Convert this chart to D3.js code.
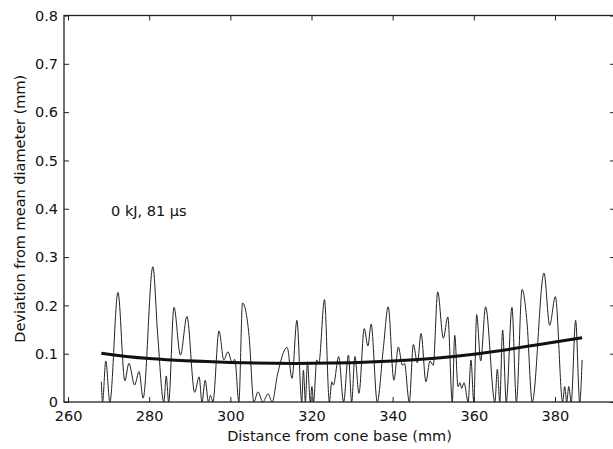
<!DOCTYPE html>
<html>
<head>
<meta charset="utf-8">
<script src="https://cdn.jsdelivr.net/npm/d3@7"></script>
<style>
  body { margin: 0; background: #fff; }
  text { font-family: "DejaVu Sans", sans-serif; font-size: 14.5px; fill: #111; }
</style>
</head>
<body>
<div id="chart"></div>
<script>
// profile along the cone (thin line) - peaks and troughs
const profileX = [268.2, 268.5, 269.3, 270.3, 272.3, 274.0, 275.0, 276.4, 277.5, 278.5,
  280.9, 282.1, 283.6, 284.2, 284.8, 286.1, 287.7, 289.3, 291.2, 292.3,
  293.0, 293.8, 294.6, 295.1, 295.7, 297.2, 298.4, 299.4, 300.4, 301.1,
  302.1, 303.0, 304.6, 305.8, 306.8, 308.0, 309.3, 310.3, 311.6, 314.0,
  315.2, 316.4, 317.6, 318.0, 318.5, 319.0, 319.7, 320.1, 320.5, 321.3,
  321.8, 323.2, 324.4, 325.0, 325.4, 326.7, 327.9, 329.1, 329.9, 330.7,
  331.7, 333.0, 333.9, 334.7, 336.2, 337.7, 338.9, 340.3, 341.4, 342.4,
  342.9, 344.1, 345.1, 346.1, 347.0, 348.2, 349.2, 350.0, 351.1, 352.5,
  353.6, 354.7, 355.3, 356.1, 356.6, 357.0, 357.6, 358.6, 359.3, 360.0,
  360.7, 361.7, 362.9, 365.2, 365.8, 366.4, 367.1, 368.0, 369.4, 370.5,
  371.9, 373.1, 374.4, 377.3, 378.7, 380.1, 381.9, 382.4, 382.9, 383.4,
  384.0, 385.1, 386.1, 386.7];
const profileY = [0.042, 0, 0.085, 0, 0.227, 0.044, 0.080, 0.035, 0.063, 0.008,
  0.280, 0.138, 0, 0.054, 0, 0.196, 0.097, 0.177, 0.020, 0.052,
  0, 0.045, 0, 0.014, 0, 0.147, 0.087, 0.104, 0.083, 0.088,
  0, 0.205, 0.138, 0, 0.021, 0, 0.017, 0, 0.056, 0.113,
  0.049, 0.169, 0, 0.066, 0, 0.083, 0, 0.032, 0, 0.087,
  0.080, 0.212, 0, 0.042, 0.035, 0.094, 0, 0.097, 0, 0.094,
  0.018, 0.152, 0.116, 0.161, 0, 0.111, 0.197, 0.045, 0.114, 0.076,
  0.080, 0, 0.119, 0.081, 0.142, 0.042, 0.085, 0.076, 0.228, 0.132,
  0.176, 0, 0.138, 0.032, 0.040, 0.028, 0.040, 0, 0.087, 0,
  0.181, 0.085, 0.197, 0, 0.068, 0, 0.149, 0, 0.196, 0,
  0.233, 0.166, 0, 0.267, 0.159, 0.218, 0, 0.032, 0, 0.032,
  0, 0.169, 0, 0.087];

// fitted trend (thick line)
const trendX = [268.2, 280, 300, 320, 340, 360, 380, 386.7];
const trendY = [0.101, 0.090, 0.082, 0.080, 0.085, 0.099, 0.124, 0.133];

const xTicks = [260, 280, 300, 320, 340, 360, 380];
const yTicks = [0, 0.1, 0.2, 0.3, 0.4, 0.5, 0.6, 0.7, 0.8];
const annotation = "0 kJ, 81 μs";

const W = 613, H = 449;
const plotL = 64, plotR = 615, plotT = 15.5, plotB = 402;

const svg = d3.select("#chart").append("svg")
  .attr("width", W)
  .attr("height", H);

const x = d3.scaleLinear().domain([259.0, 394.8]).range([plotL, plotR]);
const y = d3.scaleLinear().domain([0, 0.8]).range([plotB, plotT]);

svg.append("defs").append("clipPath").attr("id", "clip")
  .append("rect")
    .attr("x", plotL).attr("y", plotT)
    .attr("width", plotR - plotL).attr("height", plotB - plotT);

// ticks inward on all four sides, labels only bottom/left
const tk = 5;
svg.append("g")
  .attr("transform", `translate(0,${plotB})`)
  .call(d3.axisBottom(x).tickValues(xTicks).tickSizeInner(-tk).tickSizeOuter(0).tickPadding(9))
  .call(g => g.select(".domain").remove());
svg.append("g")
  .attr("transform", `translate(0,${plotT})`)
  .call(d3.axisTop(x).tickValues(xTicks).tickSizeInner(-tk).tickSizeOuter(0).tickFormat(""))
  .call(g => g.select(".domain").remove());
svg.append("g")
  .attr("transform", `translate(${plotL},0)`)
  .call(d3.axisLeft(y).tickValues(yTicks).tickSizeInner(-tk).tickSizeOuter(0).tickPadding(6)
    .tickFormat(d => d === 0 ? "0" : d3.format(".1f")(d)))
  .call(g => g.select(".domain").remove());
svg.append("g")
  .attr("transform", `translate(${plotR},0)`)
  .call(d3.axisRight(y).tickValues(yTicks).tickSizeInner(-tk).tickSizeOuter(0).tickFormat(""))
  .call(g => g.select(".domain").remove());

svg.selectAll(".tick line").attr("stroke", "#222").attr("stroke-width", 1);
svg.selectAll(".tick text")
  .style("font-family", "'DejaVu Sans', sans-serif")
  .style("font-size", "14.5px")
  .attr("fill", "#111");

// box
svg.append("rect")
  .attr("x", plotL).attr("y", plotT)
  .attr("width", plotR - plotL).attr("height", plotB - plotT)
  .attr("fill", "none")
  .attr("stroke", "#222")
  .attr("stroke-width", 1.3);

const plot = svg.append("g").attr("clip-path", "url(#clip)");

const thin = d3.line()
  .x((d, i) => x(profileX[i]))
  .y(d => y(d))
  .curve(d3.curveMonotoneX);

plot.append("path")
  .datum(profileY)
  .attr("fill", "none")
  .attr("stroke", "#222")
  .attr("stroke-width", 1)
  .attr("d", thin);

const thick = d3.line()
  .x((d, i) => x(trendX[i]))
  .y(d => y(d))
  .curve(d3.curveNatural);

plot.append("path")
  .datum(trendY)
  .attr("fill", "none")
  .attr("stroke", "#111")
  .attr("stroke-width", 3)
  .attr("d", thick);

// annotation
svg.append("text")
  .attr("x", x(270.6))
  .attr("y", y(0.385))
  .text(annotation);

// axis titles
svg.append("text")
  .attr("x", (plotL + plotR) / 2)
  .attr("y", 441)
  .attr("text-anchor", "middle")
  .text("Distance from cone base (mm)");

svg.append("text")
  .attr("transform", `translate(24.5,${(plotT + plotB) / 2}) rotate(-90)`)
  .attr("text-anchor", "middle")
  .text("Deviation from mean diameter (mm)");
</script>
</body>
</html>
